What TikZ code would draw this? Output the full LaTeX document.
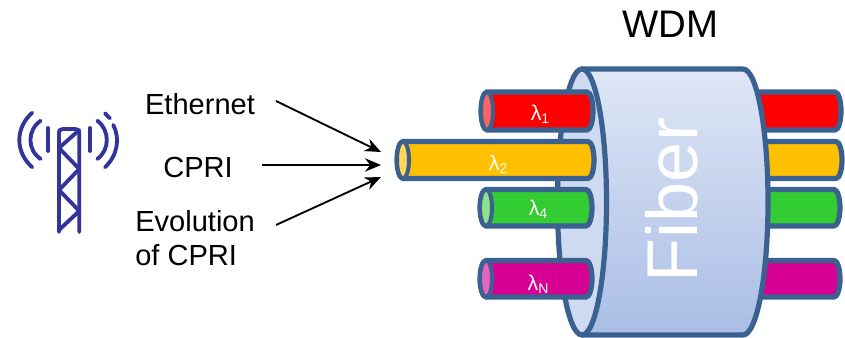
\documentclass[tikz,border=0pt]{standalone}
\usepackage{fontspec}
\setmainfont{Liberation Sans}
\usetikzlibrary{arrows.meta}
\definecolor{rim}{HTML}{3B6190}
\definecolor{tower}{HTML}{333399}
\definecolor{cred}{HTML}{FF0000}
\definecolor{pred}{HTML}{FF6464}
\definecolor{corange}{HTML}{FFC000}
\definecolor{porange}{HTML}{FFD75A}
\definecolor{cgreen}{HTML}{33CC33}
\definecolor{pgreen}{HTML}{8CE18C}
\definecolor{cmag}{HTML}{D60093}
\definecolor{pmag}{HTML}{E664BE}
\definecolor{barrellight}{HTML}{DFE7F5}
\definecolor{barreldark}{HTML}{A9BDE5}
\definecolor{barrelface}{HTML}{CDDAF1}
\tikzset{
  tubeline/.style={draw=rim,line width=3.9pt},
  barrel/.style={draw=rim,line width=3.9pt,line join=round},
  mast/.style={draw=tower,line width=2.9pt,line cap=round,line join=round},
  label/.style={font=\fontsize{21.8pt}{26pt}\selectfont,inner sep=0pt},
  lam/.style={text=white,font=\fontsize{16pt}{18pt}\selectfont,inner sep=0pt},
  feed/.style={draw=black,line width=1.4pt,-{Stealth[length=12pt,width=10pt]}}
}
\newcommand{\lamtext}[1]{λ\raisebox{-2.5pt}{\fontsize{10.5pt}{11pt}\selectfont #1}}
% tube: x1 x2 ytop ybottom fill pale
\newcommand{\tubeleft}[6]{%
  \path[tubeline,fill=#5] (#1,#3) -- (#2,#3) arc[start angle=-90,end angle=90,x radius=6,y radius={(#4-#3)/2}] -- (#1,#4) arc[start angle=90,end angle=270,x radius=6,y radius={(#4-#3)/2}] -- cycle;
  \path[draw=rim,line width=3pt,fill=#6] (#1,{(#3+#4)/2}) ellipse[x radius=6,y radius={(#4-#3)/2}];
}
\newcommand{\tuberight}[5]{%
  \path[tubeline,fill=#5] (#1,#3) -- (#2,#3) arc[start angle=-90,end angle=90,x radius=6,y radius={(#4-#3)/2}] -- (#1,#4) -- cycle;
}
\begin{document}
\begin{tikzpicture}[x=0.75pt,y=-0.75pt]
\useasboundingbox (0,0) rectangle (845,338);
% right stubs
\tuberight{700}{835}{92}{130}{cred}
\tuberight{700}{836}{141.5}{178.5}{corange}
\tuberight{700}{834}{189.5}{226}{cgreen}
\tuberight{700}{834}{260.5}{297}{cmag}
% barrel
\path[barrel,shade,shading angle=-45,top color=barrellight,bottom color=barreldark] (582,69) -- (743,69) arc[start angle=-90,end angle=90,x radius=25,y radius=133] -- (582,335) -- cycle;
\path[barrel,fill=barrelface] (582,202) ellipse[x radius=24.5,y radius=133];
% left tubes
\tubeleft{487}{587}{92}{130}{cred}{pred}
\tubeleft{403}{588}{141.5}{178.5}{corange}{porange}
\tubeleft{486}{586}{189.5}{226}{cgreen}{pgreen}
\tubeleft{486}{586}{260.5}{297}{cmag}{pmag}
% labels on tubes
\node[lam] (l1) at (540,114) {\lamtext{1}};
\node[lam] (l2) at (498,164) {\lamtext{2}};
\node[lam] (l4) at (538,209) {\lamtext{4}};
\node[lam] (lN) at (538,284) {\lamtext{N}};
\node[rotate=90,text=white,inner sep=0pt,font=\fontsize{54pt}{60pt}\selectfont] (fiber) at (672,200) {Fiber};
\node[inner sep=0pt,font=\fontsize{28.8pt}{32pt}\selectfont] (wdm) at (670,24) {WDM};
% text
\node[label] (eth) at (200,104) {Ethernet};
\node[label] (cpri) at (198,167) {CPRI};
\node[label,align=left,anchor=west] (evo) at (135,238) {Evolution\\of CPRI};
% connectors
\coordinate (hub1) at (381,152);
\coordinate (hub2) at (381,165);
\coordinate (hub3) at (381,177);
\coordinate (s1) at (276,101);
\coordinate (s2) at (262,165);
\coordinate (s3) at (276,225);
\draw[feed] (s1) -- (hub1);
\draw[feed] (s2) -- (hub2);
\draw[feed] (s3) -- (hub3);
% tower
\draw[mast] (59,232) -- (59,134) .. controls (59,130) and (60,129) .. (63,129) -- (75,129) .. controls (78,129) and (79.3,130) .. (79.3,134) -- (79.3,232);
\draw[mast] (79.3,130) -- (59,148) -- (79.3,169) -- (59,190) -- (79.3,211) -- (59,230);
\draw[mast] (48,128) -- (48,151);
\draw[mast] (90,128) -- (90,151);
\draw[mast] (40.7,120.7) .. controls (27,130) and (27,150) .. (40.7,159);
\draw[mast] (32.3,112.7) .. controls (15,128) and (15,152) .. (32.3,167.3);
\draw[mast] (97.3,120.7) .. controls (110,130) and (110,150) .. (97.3,159);
\draw[mast] (105,113.3) -- (110,118.3);
\draw[mast] (113.3,125) .. controls (120,138) and (118,155) .. (105,167.3);
\end{tikzpicture}
\end{document}
